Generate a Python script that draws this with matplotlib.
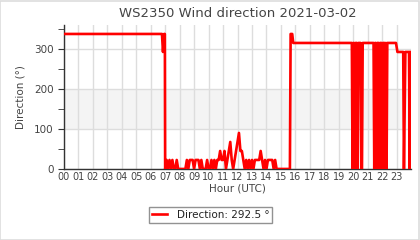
import matplotlib
matplotlib.use("Agg")
import matplotlib.pyplot as plt
from matplotlib.patches import Rectangle
from matplotlib.ticker import MultipleLocator

title = "WS2350 Wind direction 2021-03-02"
hour_labels = ["%02d" % h for h in range(24)]

# time (hours UTC) and wind direction (degrees)
times_a = [0.0, 6.78, 6.85, 6.93, 6.98]
dirs_a = [337.5, 337.5, 292.5, 337.5, 337.5]

times_b = [7.0 + 0.1 * i for i in range(79)]
dirs_b = [0, 22.5, 0, 22.5, 0, 22.5, 0, 0, 22.5, 0,
          0, 0, 0, 0, 0, 22.5, 0, 22.5, 22.5, 22.5,
          0, 22.5, 22.5, 22.5, 0, 22.5, 0, 0, 0, 22.5,
          0, 0, 22.5, 0, 22.5, 0, 22.5, 22.5, 45, 22.5,
          22.5, 45, 0, 22.5, 45, 67.5, 22.5, 0, 22.5, 45,
          67.5, 90, 45, 45, 22.5, 0, 22.5, 0, 22.5, 0,
          22.5, 0, 22.5, 22.5, 22.5, 22.5, 45, 22.5, 0, 22.5,
          0, 22.5, 22.5, 22.5, 22.5, 0, 22.5, 0, 0]

times_c = [15.0, 15.62, 15.67, 15.78, 15.85, 19.9, 19.95, 20.0, 20.05, 20.1,
           20.15, 20.25, 20.3, 20.35, 20.5, 20.55, 20.6, 20.65, 21.4, 21.45,
           21.5, 21.55, 21.6, 21.65, 21.75, 21.8, 21.85, 21.95, 22.0, 22.05,
           22.15, 22.2, 22.25, 22.3, 22.35, 22.95, 23.05, 23.45, 23.5, 23.6,
           23.65, 23.85, 23.9, 23.97]
dirs_c = [0, 0, 337.5, 337.5, 315, 315, 0, 315, 315, 0,
          315, 315, 0, 315, 315, 0, 0, 315, 315, 0,
          315, 315, 0, 315, 315, 0, 315, 315, 0, 315,
          315, 0, 315, 0, 315, 315, 292.5, 292.5, 0, 292.5,
          292.5, 292.5, 0, 292.5]

times = times_a + times_b + times_c
dirs = dirs_a + dirs_b + dirs_c
legend_label = "Direction: 292.5 °"

txt = "#444444"
fig = plt.figure(figsize=(4.2, 2.4), dpi=100)
fig.patch.set_facecolor("white")
fig.add_artist(Rectangle((0.001, 0.002), 0.996, 0.995, transform=fig.transFigure,
                         fill=False, edgecolor="#dddddd", linewidth=1.2))

ax = fig.add_axes([0.152, 0.296, 0.827, 0.6])
ax.axhspan(100, 200, color="#f4f4f4", zorder=0, linewidth=0)
ax.set_xlim(0, 24)
ax.set_ylim(0, 360)
ax.set_xticks(range(24))
ax.set_xticklabels(hour_labels)
ax.yaxis.set_major_locator(MultipleLocator(100))
ax.yaxis.set_minor_locator(MultipleLocator(50))
ax.grid(True, which="major", color="#dddddd", linewidth=1)
ax.set_axisbelow(True)
ax.plot(times, dirs, color="#ff0000", linewidth=1.9, label=legend_label, zorder=3)

for s in ["top", "right"]:
    ax.spines[s].set_visible(False)
for s in ["left", "bottom"]:
    ax.spines[s].set_color("#333333")
    ax.spines[s].set_linewidth(1.0)
ax.tick_params(axis="x", length=0, labelsize=7, labelcolor=txt, pad=2)
ax.tick_params(axis="y", which="major", length=4, color="#333333", labelsize=7.5, labelcolor=txt)
ax.tick_params(axis="y", which="minor", length=4, color="#333333")
ax.set_xlabel("Hour (UTC)", fontsize=7.5, color=txt, labelpad=1)
ax.set_ylabel("Direction (°)", fontsize=7.5, color=txt, labelpad=6)
ax.set_title(title, fontsize=9.5, color=txt, pad=6)

leg = ax.legend(loc="center", bbox_to_anchor=(0.423, -0.32), fontsize=7.5,
                frameon=True, fancybox=False, handlelength=1.4, borderpad=0.25,
                handletextpad=1.0)
leg.get_frame().set_edgecolor("#777777")
leg.get_frame().set_linewidth(1.0)
for t in leg.get_texts():
    t.set_color("#222222")

fig.savefig("out.png", dpi=100, facecolor="white")
